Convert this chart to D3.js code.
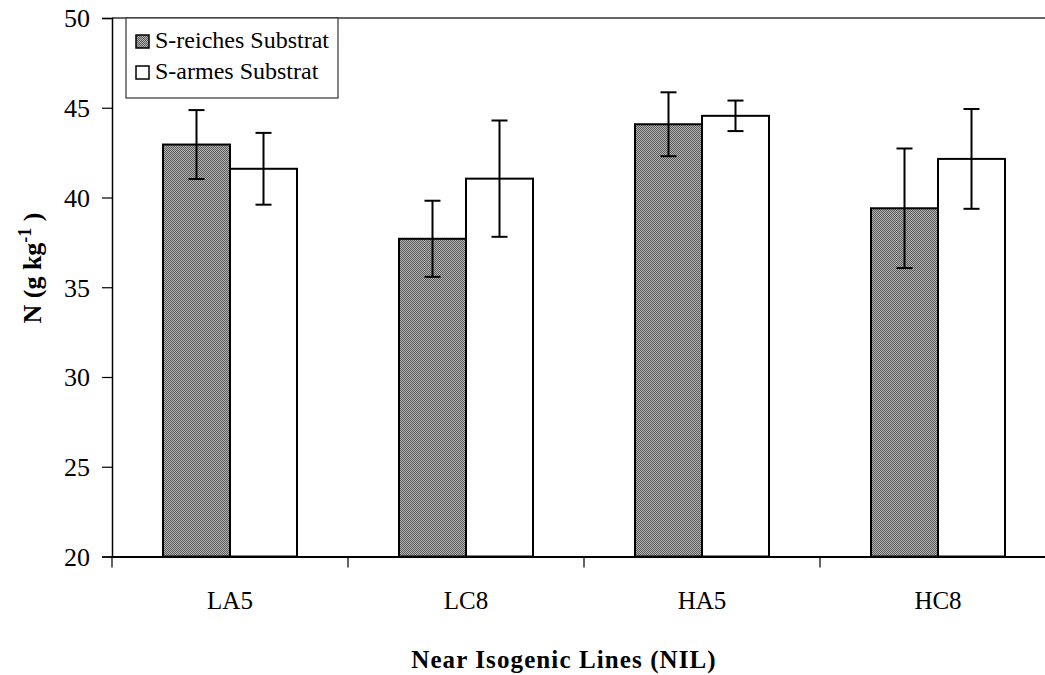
<!DOCTYPE html>
<head>
  <meta charset="utf-8">
  <script src="https://d3js.org/d3.v7.min.js"></script>
  <style>
body {
	margin:0;
	background:#fff;
	}
svg text {
	fill: #000;
	}
  </style>
</head>

<body>
  <div id="graph"></div>
<script>
// data
var lines = ["LA5", "LC8", "HA5", "HC8"];
var seriesNames = ["S-reiches Substrat", "S-armes Substrat"];
var richValues = [42.95, 37.7, 44.08, 39.4];
var richErrors = [1.92, 2.12, 1.78, 3.33];
var poorValues = [41.6, 41.05, 44.55, 42.15];
var poorErrors = [2.0, 3.24, 0.85, 2.78];
var yTicks = [20, 25, 30, 35, 40, 45, 50];

var W = 1045, H = 675;
var plotLeft = 112, plotTop = 18, plotBottom = 556.5, band = 236;
var serif = "Liberation Serif";

var svg = d3.select("#graph").append("svg")
    .attr("width", W).attr("height", H)
    .attr("font-family", serif);

// dithered gray fill like the old Excel pattern
var defs = svg.append("defs");
var pat = defs.append("pattern")
    .attr("id", "dither")
    .attr("width", 2).attr("height", 2)
    .attr("patternUnits", "userSpaceOnUse");
pat.append("rect").attr("width", 2).attr("height", 2).attr("fill", "#b4b4b4");
pat.append("rect").attr("width", 1).attr("height", 1).attr("fill", "#5a5a5a");
pat.append("rect").attr("x", 1).attr("y", 1).attr("width", 1).attr("height", 1).attr("fill", "#5a5a5a");

var x = d3.scaleBand().domain(lines).range([plotLeft, plotLeft + band * lines.length]);
var x1 = d3.scaleBand().domain([0, 1]).range([51, 51 + 134]);
var y = d3.scaleLinear().domain([20, 50]).range([plotBottom, plotTop]);

var data = [];
lines.forEach(function(c, i) {
  data.push({cat: c, s: 0, v: richValues[i], e: richErrors[i]});
  data.push({cat: c, s: 1, v: poorValues[i], e: poorErrors[i]});
});

// frame top line
svg.append("line")
    .attr("x1", plotLeft).attr("x2", W)
    .attr("y1", plotTop).attr("y2", plotTop)
    .attr("stroke", "#333").attr("stroke-width", 1.5);

// bars
svg.selectAll(".bar")
    .data(data)
    .enter().append("rect")
    .attr("class", "bar")
    .attr("x", function(d) { return x(d.cat) + x1(d.s); })
    .attr("y", function(d) { return y(d.v); })
    .attr("width", x1.bandwidth())
    .attr("height", function(d) { return y(20) - y(d.v); })
    .attr("fill", function(d) { return d.s == 0 ? "url(#dither)" : "#fff"; })
    .attr("stroke", "#000")
    .attr("stroke-width", 2);

// error bars
var eb = svg.selectAll(".err")
    .data(data)
    .enter().append("g")
    .attr("class", "err")
    .attr("transform", function(d) { return "translate(" + (x(d.cat) + x1(d.s) + x1.bandwidth() / 2) + ",0)"; });
eb.append("line")
    .attr("y1", function(d) { return y(d.v + d.e); })
    .attr("y2", function(d) { return y(d.v - d.e); })
    .attr("stroke", "#000").attr("stroke-width", 2);
eb.append("line")
    .attr("x1", -8).attr("x2", 8)
    .attr("y1", function(d) { return y(d.v + d.e); })
    .attr("y2", function(d) { return y(d.v + d.e); })
    .attr("stroke", "#000").attr("stroke-width", 2);
eb.append("line")
    .attr("x1", -8).attr("x2", 8)
    .attr("y1", function(d) { return y(d.v - d.e); })
    .attr("y2", function(d) { return y(d.v - d.e); })
    .attr("stroke", "#000").attr("stroke-width", 2);

// y axis
var yaxis = svg.append("g")
    .attr("transform", "translate(" + plotLeft + ",0)")
    .call(d3.axisLeft(y).tickValues(yTicks).tickSize(10).tickPadding(12))
    .attr("font-family", serif)
    .attr("font-size", 26);
yaxis.select(".domain").attr("stroke", "#000").attr("stroke-width", 1.5);
yaxis.selectAll(".tick line").attr("stroke", "#000").attr("stroke-width", 1.2);
yaxis.selectAll("text").attr("dy", "0.34em");

// x axis, ticks at band edges
var xaxis = svg.append("g")
    .attr("transform", "translate(0," + plotBottom + ")")
    .call(d3.axisBottom(x).tickSize(0).tickPadding(35))
    .attr("font-family", serif)
    .attr("font-size", 25);
xaxis.select(".domain").attr("stroke", "#000").attr("stroke-width", 2);
svg.selectAll(".xtick")
    .data(lines)
    .enter().append("line")
    .attr("x1", function(d) { return x(d); })
    .attr("x2", function(d) { return x(d); })
    .attr("y1", plotBottom).attr("y2", plotBottom + 11)
    .attr("stroke", "#000").attr("stroke-width", 1.2);

// axis titles
svg.append("text")
    .attr("x", 564).attr("y", 668)
    .attr("text-anchor", "middle")
    .attr("font-size", 25)
    .attr("font-weight", "bold")
    .style("letter-spacing", "1.1px")
    .text("Near Isogenic Lines (NIL)");

var yt = svg.append("text")
    .attr("transform", "translate(41,268) rotate(-90)")
    .attr("text-anchor", "middle")
    .attr("font-size", 26)
    .attr("font-weight", "bold");
yt.append("tspan").text("N (g kg");
yt.append("tspan").attr("dy", -10).attr("font-size", 18).text("-1");
yt.append("tspan").attr("dy", 10).text(" )");

// legend
var lg = svg.append("g");
lg.append("rect")
    .attr("x", 126).attr("y", plotTop)
    .attr("width", 212).attr("height", 80)
    .attr("fill", "#fff").attr("stroke", "#333").attr("stroke-width", 1.2);
var li = lg.selectAll(".li")
    .data(seriesNames)
    .enter().append("g")
    .attr("transform", function(d, i) { return "translate(136," + (35 + i * 31) + ")"; });
li.append("rect")
    .attr("width", 13).attr("height", 13)
    .attr("fill", function(d, i) { return i == 0 ? "url(#dither)" : "#fff"; })
    .attr("stroke", "#000").attr("stroke-width", 1.5);
li.append("text")
    .attr("x", 19).attr("y", 13)
    .attr("font-size", 24)
    .text(function(d) { return d; });
</script>
</body>
